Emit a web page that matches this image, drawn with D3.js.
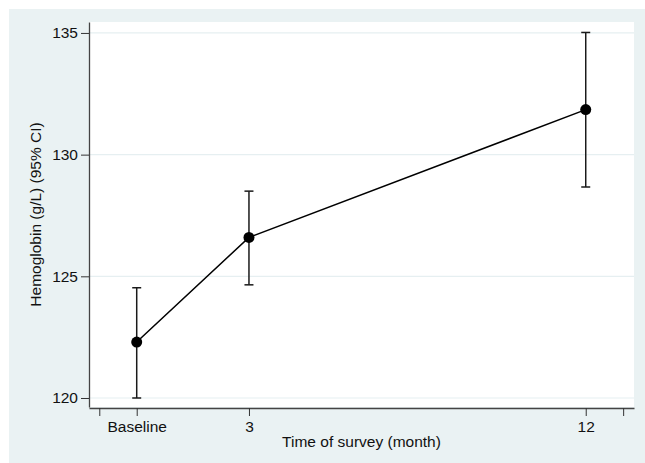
<!DOCTYPE html>
<html>
<head>
<meta charset="utf-8">
<script src="https://cdn.jsdelivr.net/npm/d3@7"></script>
<style>
  body { margin: 0; background: #fff; }
  text { font-family: "Liberation Sans", Arial, Helvetica, sans-serif; }
</style>
</head>
<body>
<svg id="chart" width="645" height="463"></svg>
<script>
// survey time points (months) and their labels
let months = [0, 3, 12];
let categories = ["Baseline", "3", "12"];
// hemoglobin mean and 95% CI, g/L
let means = [122.3, 126.6, 131.85];
let ci_low = [120.0, 124.65, 128.67];
let ci_high = [124.53, 128.5, 135.02];

let x_ticks = [-1, 0, 3, 12, 13];
let y_ticks = [120, 125, 130, 135];

let font_size = 15.5;

let svg = d3.select("#chart");

svg.append("rect")
    .attr("x", 9)
    .attr("y", 9)
    .attr("width", 636)
    .attr("height", 454)
    .attr("fill", "#eaf2f3");

let plot_left = 89, plot_right = 634, plot_top = 22, plot_bottom = 407;

svg.append("rect")
    .attr("x", plot_left)
    .attr("y", plot_top)
    .attr("width", plot_right - plot_left)
    .attr("height", plot_bottom - plot_top)
    .attr("fill", "#ffffff");

let x = d3.scaleLinear().domain([-1.275, 13.29]).range([plot_left, plot_right]);
let y = d3.scaleLinear().domain([119.63, 135.45]).range([plot_bottom, plot_top]);

// grid
svg.append("g")
    .selectAll("line").data(y_ticks).join("line")
    .attr("x1", plot_left)
    .attr("x2", plot_right)
    .attr("y1", d => y(d))
    .attr("y2", d => y(d))
    .attr("stroke", "#e6eff1")
    .attr("stroke-width", 1.2);

let y_axis = d3.axisLeft(y).tickValues(y_ticks).tickSize(8).tickPadding(3).tickSizeOuter(0);
svg.append("g")
    .attr("transform", "translate(" + plot_left + ",0)")
    .call(y_axis)
    .call(g => g.select(".domain").attr("stroke", "#444").attr("stroke-width", 1.3))
    .call(g => g.selectAll(".tick line").attr("stroke", "#333"))
    .call(g => g.selectAll("text").attr("font-size", font_size).attr("fill", "#111"));

let x_axis = d3.axisBottom(x).tickValues(x_ticks).tickSize(8).tickPadding(5).tickSizeOuter(0)
    .tickFormat(d => { let i = months.indexOf(d); return i >= 0 ? categories[i] : ""; });
svg.append("g")
    .attr("transform", "translate(0," + (plot_bottom + 1) + ")")
    .call(x_axis)
    .call(g => g.select(".domain").attr("stroke", "#444").attr("stroke-width", 1.3))
    .call(g => g.selectAll(".tick line").attr("stroke", "#333"))
    .call(g => g.selectAll("text").attr("font-size", font_size).attr("fill", "#111"));

// axis titles
svg.append("text")
    .attr("x", (plot_left + plot_right) / 2)
    .attr("y", 447)
    .attr("text-anchor", "middle")
    .attr("font-size", font_size)
    .attr("fill", "#111")
    .text("Time of survey (month)");

svg.append("text")
    .attr("transform", "translate(40.5," + (plot_top + plot_bottom) / 2 + ") rotate(-90)")
    .attr("text-anchor", "middle")
    .attr("font-size", font_size)
    .attr("fill", "#111")
    .text("Hemoglobin (g/L) (95% CI)");

// error bars
let bars = svg.append("g").attr("stroke", "#1a1a1a").attr("stroke-width", 1.5);
months.forEach((m, i) => {
    bars.append("line")
        .attr("x1", x(m)).attr("x2", x(m))
        .attr("y1", y(ci_low[i])).attr("y2", y(ci_high[i]));
    [ci_low[i], ci_high[i]].forEach(v => {
        bars.append("line")
            .attr("x1", x(m) - 4.5).attr("x2", x(m) + 4.5)
            .attr("y1", y(v)).attr("y2", y(v));
    });
});

// connecting line
let line = d3.line().x((d, i) => x(months[i])).y(d => y(d));
svg.append("path")
    .datum(means)
    .attr("d", line)
    .attr("fill", "none")
    .attr("stroke", "#000")
    .attr("stroke-width", 1.5);

svg.append("g")
    .selectAll("circle").data(means).join("circle")
    .attr("cx", (d, i) => x(months[i]))
    .attr("cy", d => y(d))
    .attr("r", 5.5)
    .attr("fill", "#000");
</script>
</body>
</html>
